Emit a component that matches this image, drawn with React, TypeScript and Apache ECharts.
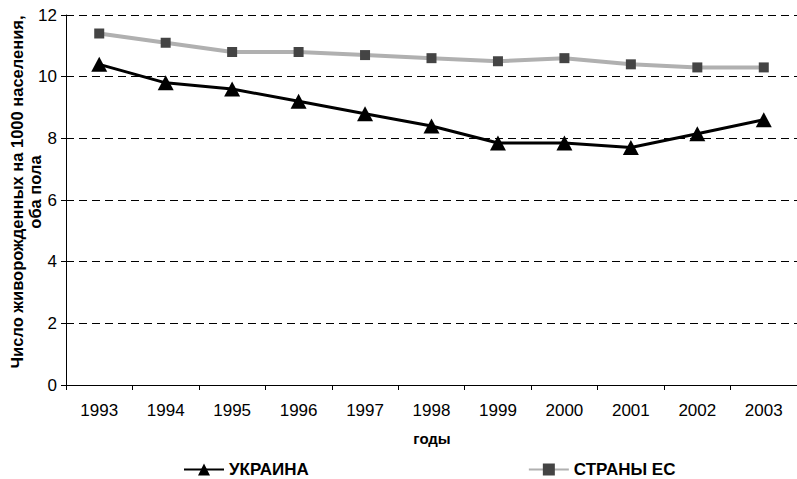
import React, { useEffect, useRef } from "react";
import * as echarts from "echarts";

const years = ["1993", "1994", "1995", "1996", "1997", "1998", "1999", "2000", "2001", "2002", "2003"];
const ukraine = [10.4, 9.8, 9.6, 9.2, 8.8, 8.4, 7.85, 7.85, 7.7, 8.15, 8.6];
const eu = [11.4, 11.1, 10.8, 10.8, 10.7, 10.6, 10.5, 10.6, 10.4, 10.3, 10.3];
const yTitle1 = "Число живорожденных на 1000 населения,";
const yTitle2 = "оба пола";
const xTitle = "годы";

const FONT = "'Liberation Sans', Arial, sans-serif";

export default function App() {
  const ref = useRef<HTMLDivElement>(null);
  useEffect(() => {
    if (!ref.current) return;
    const chart = echarts.init(ref.current, undefined, { renderer: "svg" });
    chart.setOption({
      animation: false,
      textStyle: { fontFamily: FONT, color: "#000" },
      grid: { left: 66, top: 15, height: 370, width: 733, containLabel: false },
      legend: {
        left: 178,
        top: 456,
        itemGap: 219,
        itemWidth: 40,
        itemHeight: 15,
        textStyle: { fontFamily: FONT, fontWeight: "bold", fontSize: 17, color: "#000" },
        data: ["УКРАИНА", "СТРАНЫ ЕС"],
      },
      xAxis: {
        type: "category",
        data: years,
        boundaryGap: true,
        axisLine: { lineStyle: { color: "#000", width: 1 } },
        axisTick: { show: true, length: 5, lineStyle: { color: "#000" } },
        axisLabel: { color: "#000", fontSize: 17, margin: 17, fontFamily: FONT },
        splitLine: { show: false },
      },
      yAxis: {
        type: "value",
        min: 0,
        max: 12,
        interval: 2,
        axisLine: { show: true, lineStyle: { color: "#000", width: 1 } },
        axisTick: { show: true, length: 5, lineStyle: { color: "#000" } },
        axisLabel: { color: "#000", fontSize: 17, margin: 9, fontFamily: FONT },
        splitLine: { show: true, lineStyle: { color: "#000", type: [8, 5], width: 1 } },
      },
      graphic: [
        {
          type: "text",
          x: 17,
          y: 192,
          rotation: Math.PI / 2,
          style: {
            text: yTitle1,
            fontFamily: FONT,
            fontWeight: "bold",
            fontSize: 16.5,
            fill: "#000",
            align: "center",
            verticalAlign: "middle",
          },
        },
        {
          type: "text",
          x: 35,
          y: 192,
          rotation: Math.PI / 2,
          style: {
            text: yTitle2,
            fontFamily: FONT,
            fontWeight: "bold",
            fontSize: 16.5,
            fill: "#000",
            align: "center",
            verticalAlign: "middle",
          },
        },
        {
          type: "text",
          x: 432,
          y: 438,
          style: {
            text: xTitle,
            fontFamily: FONT,
            fontWeight: "bold",
            fontSize: 15,
            fill: "#000",
            align: "center",
            verticalAlign: "middle",
          },
        },
      ],
      series: [
        {
          name: "УКРАИНА",
          type: "line",
          data: ukraine,
          symbol: "triangle",
          symbolSize: [16, 15],
          lineStyle: { color: "#000", width: 3 },
          itemStyle: { color: "#000" },
          z: 3,
        },
        {
          name: "СТРАНЫ ЕС",
          type: "line",
          data: eu,
          symbol: "rect",
          symbolSize: [10, 10],
          lineStyle: { color: "#b0b0b0", width: 4 },
          itemStyle: { color: "#444444" },
          z: 2,
        },
      ],
    });
    return () => chart.dispose();
  }, []);
  return <div ref={ref} style={{ width: 797, height: 479, position: "absolute", left: 0, top: 0 }} />;
}
